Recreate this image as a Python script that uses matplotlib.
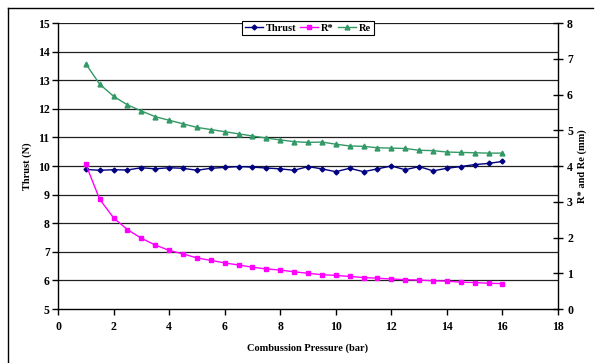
import matplotlib
matplotlib.use("Agg")
import matplotlib.pyplot as plt
from matplotlib.lines import Line2D

pressure = [1, 1.5, 2, 2.5, 3, 3.5, 4, 4.5, 5, 5.5, 6, 6.5, 7, 7.5, 8, 8.5,
            9, 9.5, 10, 10.5, 11, 11.5, 12, 12.5, 13, 13.5, 14, 14.5, 15, 15.5, 16]
thrust = [9.88, 9.85, 9.87, 9.86, 9.94, 9.90, 9.94, 9.92, 9.85, 9.92, 9.95, 9.98,
          9.96, 9.93, 9.90, 9.85, 9.98, 9.90, 9.80, 9.92, 9.80, 9.90, 10.00, 9.87,
          9.98, 9.83, 9.92, 9.98, 10.05, 10.09, 10.16]
r_star = [4.05, 3.07, 2.55, 2.22, 1.98, 1.79, 1.64, 1.54, 1.43, 1.36, 1.29, 1.23,
          1.17, 1.12, 1.09, 1.04, 1.00, 0.96, 0.94, 0.91, 0.88, 0.86, 0.84, 0.82,
          0.81, 0.79, 0.78, 0.75, 0.74, 0.72, 0.71]
re = [6.86, 6.29, 5.95, 5.71, 5.54, 5.38, 5.28, 5.18, 5.08, 5.02, 4.96, 4.90,
      4.84, 4.78, 4.73, 4.68, 4.66, 4.67, 4.61, 4.56, 4.55, 4.51, 4.50, 4.49,
      4.44, 4.43, 4.39, 4.38, 4.37, 4.36, 4.36]

x_ticks = [0, 2, 4, 6, 8, 10, 12, 14, 16, 18]
left_ticks = [5, 6, 7, 8, 9, 10, 11, 12, 13, 14, 15]
right_ticks = [0, 1, 2, 3, 4, 5, 6, 7, 8]

plt.rcParams['font.family'] = ['Liberation Serif', 'DejaVu Serif']
plt.rcParams['font.weight'] = 'bold'

fig = plt.figure(figsize=(5.95, 3.63), dpi=100)
ax = fig.add_axes([58/595, 1-309/363, 500/595, 286/363])
ax2 = ax.twinx()

c_thrust = '#000080'
c_r = '#FF00FF'
c_re = '#339966'

for y in left_ticks[1:]:
    ax.axhline(y, color='#202020', lw=0.9, zorder=0)

ax.plot(pressure, thrust, color=c_thrust, marker='D', ms=2.5, lw=1, zorder=3)
ax2.plot(pressure, r_star, color=c_r, marker='s', ms=3.2, lw=1, zorder=3)
ax2.plot(pressure, re, color=c_re, marker='^', ms=3.5, lw=1, zorder=3)

ax.set_xlim(0, 18)
ax.set_ylim(5, 15)
ax2.set_ylim(0, 8)
ax.set_xticks(x_ticks)
ax.set_yticks(left_ticks)
ax2.set_yticks(right_ticks)

for a in (ax, ax2):
    a.spines['top'].set_visible(False)
    for s in a.spines.values():
        s.set_color('black')
        s.set_linewidth(1)
ax.spines['right'].set_visible(False)
ax2.spines['left'].set_visible(False)
ax2.spines['bottom'].set_visible(False)

ax.tick_params(axis='both', direction='out', length=4, width=1, labelsize=8.5, pad=2)
ax.tick_params(axis='x', pad=5)
ax2.tick_params(axis='y', direction='inout', length=7, width=1, labelsize=8.5, pad=3)
for lab in ax.get_xticklabels() + ax.get_yticklabels() + ax2.get_yticklabels():
    lab.set_fontweight('bold')

ax.set_xlabel('Combussion Pressure (bar)', fontsize=7.5, fontweight='bold', labelpad=7)
ax.set_ylabel('Thrust (N)', fontsize=7.5, fontweight='bold', labelpad=4)
ax2.set_ylabel('R* and Re (mm)', fontsize=7.5, fontweight='bold', labelpad=3)

handles = [Line2D([], [], color=c_thrust, marker='D', ms=2.5, lw=1),
           Line2D([], [], color=c_r, marker='s', ms=3.2, lw=1),
           Line2D([], [], color=c_re, marker='^', ms=3.5, lw=1)]
leg = ax2.legend(handles, ['Thrust', 'R*', 'Re'], loc='upper center',
                 bbox_to_anchor=(0.5, 1.007), ncol=3, frameon=True, fancybox=False,
                 edgecolor='black', framealpha=1, prop={'size': 7.5, 'weight': 'bold'},
                 handlelength=1.7, handletextpad=0.3, columnspacing=0.4,
                 borderpad=0.25, borderaxespad=0)
leg.get_frame().set_linewidth(0.8)

# outer frame (top and left edges)
fig.add_artist(Line2D([8/595, 8/595], [0, 1-8/363], color='black', lw=1, transform=fig.transFigure))
fig.add_artist(Line2D([8/595, 593/595], [1-8/363, 1-8/363], color='black', lw=1, transform=fig.transFigure))

fig.savefig('out.png', dpi=100)
